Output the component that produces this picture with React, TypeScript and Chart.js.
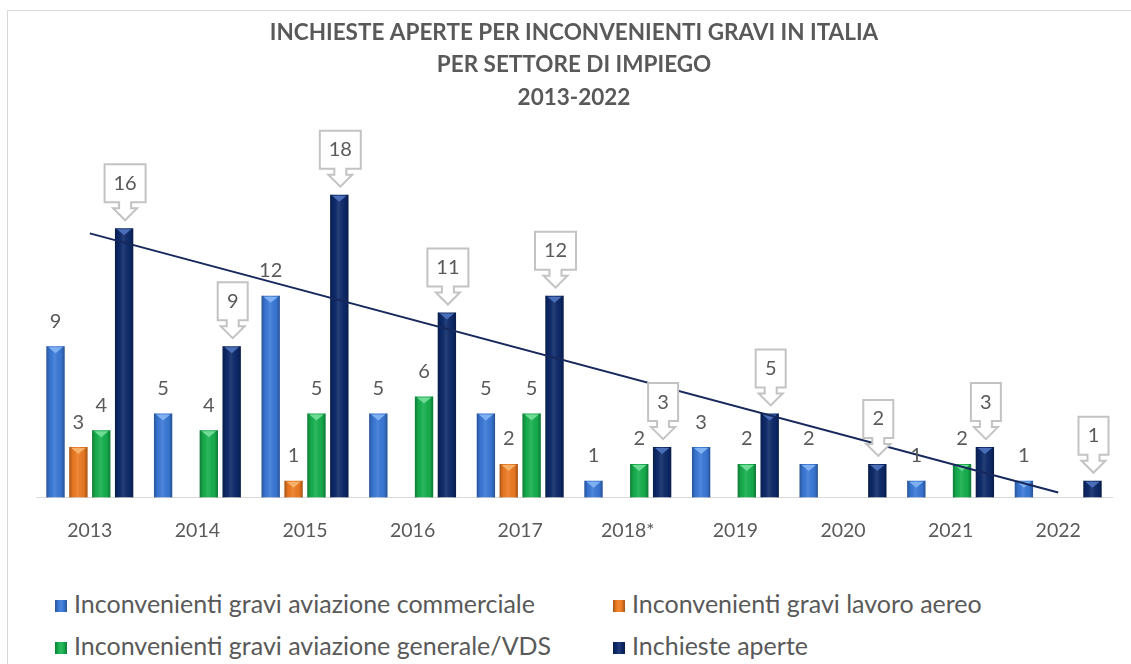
import React, { useEffect, useRef } from "react";
import { Chart, registerables } from "chart.js";

Chart.register(...registerables);

const years = ["2013", "2014", "2015", "2016", "2017", "2018*", "2019", "2020", "2021", "2022"];
const commerciale = [9, 5, 12, 5, 5, 1, 3, 2, 1, 1];
const lavoroAereo = [3, null, 1, null, 2, null, null, null, null, null];
const generaleVds = [4, 4, 5, 6, 5, 2, 2, null, 2, null];
const inchiesteAperte = [16, 9, 18, 11, 12, 3, 5, 2, 3, 1];
// linear trend of "Inchieste aperte", endpoint values
const trendStart = 15.7;
const trendEnd = 0.3;

const seriesNames = [
  "Inconvenienti gravi aviazione commerciale",
  "Inconvenienti gravi lavoro aereo",
  "Inconvenienti gravi aviazione generale/VDS",
  "Inchieste aperte",
];
const seriesColors = ["#3a79d8", "#ee7b22", "#16b04e", "#0d2a6a"];
const highlightColors = ["#7fb0f2", "#f7b06a", "#6fdc95", "#4a6fb8"];
const titleLines = [
  "INCHIESTE APERTE PER INCONVENIENTI GRAVI IN ITALIA",
  "PER SETTORE DI IMPIEGO",
  "2013-2022",
];

const FONT = 'Lato, "Noto Sans", sans-serif';
const TEXT = "#595959";

const seriesData = [commerciale, lavoroAereo, generaleVds, inchiesteAperte];

const barStylePlugin = {
  id: "barStyle",
  afterDatasetDraw(chart: any, args: any) {
    const idx = args.index;
    if (idx > 3) return;
    const ctx = chart.ctx;
    const meta = args.meta;
    meta.data.forEach((bar: any, i: number) => {
      const v = seriesData[idx][i];
      if (v == null) return;
      const { x, y, base, width } = bar.getProps(["x", "y", "base", "width"], true);
      const l = x - width / 2;
      const g = ctx.createLinearGradient(l, 0, l + width, 0);
      g.addColorStop(0, "rgba(0,0,0,0.30)");
      g.addColorStop(0.2, "rgba(0,0,0,0.04)");
      g.addColorStop(0.45, "rgba(255,255,255,0.10)");
      g.addColorStop(0.8, "rgba(0,0,0,0.04)");
      g.addColorStop(1, "rgba(0,0,0,0.32)");
      ctx.save();
      ctx.fillStyle = g;
      ctx.fillRect(l, y, width, base - y);
      ctx.fillStyle = highlightColors[idx];
      ctx.beginPath();
      ctx.moveTo(l + 2, y + 1);
      ctx.lineTo(l + width - 2, y + 1);
      ctx.lineTo(x, y + 7);
      ctx.closePath();
      ctx.fill();
      ctx.restore();
    });
  },
};

const labelsPlugin = {
  id: "valueLabels",
  afterDatasetsDraw(chart: any) {
    const ctx = chart.ctx;
    ctx.save();
    ctx.font = `20px ${FONT}`;
    ctx.textAlign = "center";
    ctx.textBaseline = "middle";
    for (let d = 0; d < 4; d++) {
      const meta = chart.getDatasetMeta(d);
      meta.data.forEach((bar: any, i: number) => {
        const v = seriesData[d][i];
        if (v == null) return;
        const { x, y } = bar.getProps(["x", "y"], true);
        const txt = String(v);
        if (d < 3) {
          ctx.fillStyle = TEXT;
          ctx.fillText(txt, x, y - 25);
        } else {
          const cx = x + 1;
          const tw = ctx.measureText(txt).width;
          const bw = Math.round(tw + 18);
          const bTop = y - 64;
          const bBot = y - 26;
          const shaftB = y - 20;
          const tip = y - 8;
          const sw = 6;
          const hw = 12;
          ctx.beginPath();
          ctx.moveTo(cx - bw / 2, bTop);
          ctx.lineTo(cx + bw / 2, bTop);
          ctx.lineTo(cx + bw / 2, bBot);
          ctx.lineTo(cx + sw, bBot);
          ctx.lineTo(cx + sw, shaftB);
          ctx.lineTo(cx + hw, shaftB);
          ctx.lineTo(cx, tip);
          ctx.lineTo(cx - hw, shaftB);
          ctx.lineTo(cx - sw, shaftB);
          ctx.lineTo(cx - sw, bBot);
          ctx.lineTo(cx - bw / 2, bBot);
          ctx.closePath();
          ctx.fillStyle = "#ffffff";
          ctx.fill();
          ctx.lineWidth = 2;
          ctx.strokeStyle = "#c3c3c3";
          ctx.stroke();
          ctx.fillStyle = TEXT;
          ctx.fillText(txt, cx, (bTop + bBot) / 2);
        }
      });
    }
    ctx.restore();
  },
};

function LegendBox({ color }: { color: string }) {
  return (
    <span
      style={{
        display: "inline-block",
        width: 12,
        height: 12,
        background: `linear-gradient(to right, rgba(0,0,0,0.3), rgba(0,0,0,0) 30%, rgba(255,255,255,0.1) 50%, rgba(0,0,0,0) 70%, rgba(0,0,0,0.3)), ${color}`,
        marginRight: 7,
        verticalAlign: "middle",
        position: "relative",
        top: -1,
      }}
    />
  );
}

export default function App() {
  const ref = useRef<HTMLCanvasElement | null>(null);

  useEffect(() => {
    document.body.style.overflow = "hidden";
    const trend = years.map((_, i) => (i === 0 ? trendStart : i === years.length - 1 ? trendEnd : null));
    const chart = new Chart(ref.current as HTMLCanvasElement, {
      type: "bar",
      data: {
        labels: years,
        datasets: [
          ...seriesData.map((arr, i) => ({
            type: "bar" as const,
            label: seriesNames[i],
            data: arr,
            backgroundColor: seriesColors[i],
            borderWidth: 0,
            categoryPercentage: 0.85,
            barPercentage: 0.8,
          })),
          {
            type: "line" as const,
            label: "Lineare (Inchieste aperte)",
            data: trend,
            borderColor: "#17295c",
            borderWidth: 2,
            pointRadius: 0,
            spanGaps: true,
            order: -1,
            fill: false,
          } as any,
        ],
      },
      options: {
        animation: false,
        responsive: false,
        maintainAspectRatio: false,
        layout: { padding: { left: 28, right: 19, top: 0, bottom: 8 } },
        plugins: {
          legend: { display: false },
          tooltip: { enabled: false },
          title: {
            display: true,
            text: titleLines,
            color: TEXT,
            font: { family: FONT, size: 22.5, weight: "bold", lineHeight: "32.5px" },
            padding: { top: 5, bottom: 47.5 },
          },
        },
        scales: {
          x: {
            grid: { display: false, drawTicks: false },
            border: { display: true, color: "#d9d9d9", width: 1 },
            ticks: { color: TEXT, font: { family: FONT, size: 19.5 }, padding: 21 },
          },
          y: { display: false, min: 0, max: 20 },
        },
      },
      plugins: [barStylePlugin, labelsPlugin],
    });
    return () => chart.destroy();
  }, []);

  const legendItem = (i: number, left: number, top: number) => (
    <div
      key={i}
      style={{
        position: "absolute",
        left,
        top,
        height: 30,
        lineHeight: "30px",
        fontFamily: FONT,
        fontSize: 25,
        color: TEXT,
        whiteSpace: "nowrap",
      }}
    >
      <LegendBox color={seriesColors[i]} />
      {seriesNames[i]}
    </div>
  );

  return (
    <div
      style={{
        position: "absolute",
        left: 7,
        top: 10,
        width: 1124,
        height: 654,
        borderTop: "1px solid #d9d9d9",
        borderLeft: "1px solid #d9d9d9",
        boxSizing: "border-box",
        overflow: "hidden",
        background: "#ffffff",
      }}
    >
      <canvas ref={ref} width={1123} height={560} style={{ display: "block", width: 1123, height: 560 }} />
      {legendItem(0, 47, 577)}
      {legendItem(1, 605, 577)}
      {legendItem(2, 47, 619)}
      {legendItem(3, 605, 619)}
    </div>
  );
}
